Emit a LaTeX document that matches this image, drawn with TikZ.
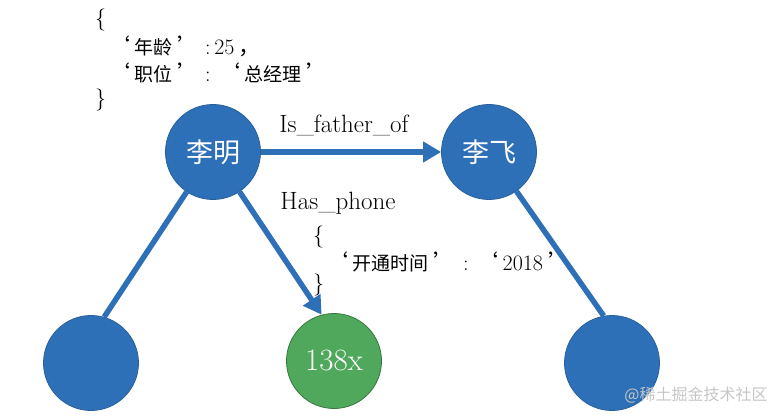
\documentclass[tikz,border=0pt]{standalone}
\usepackage{fontspec}
\newfontfamily\cjk{Noto Sans CJK SC}
\usetikzlibrary{arrows.meta}
\definecolor{entblue}{RGB}{46,112,184}
\definecolor{valgreen}{RGB}{80,168,92}
\newcommand{\qo}{{\cjk ‘}\hspace{4pt}}
\newcommand{\qc}{\hspace{5pt}{\cjk ’}}

\begin{document}
\begin{tikzpicture}[x=1pt, y=-1pt, >={Triangle[length=18pt,width=20pt]},
    ent/.style={circle, minimum size=95pt, inner sep=0pt, fill=entblue, draw=entblue!85!black, line width=0.8pt, text=white, font=\cjk\fontsize{27}{30}\selectfont},
    rel/.style={draw=entblue, line width=5.5pt},
    json/.style={anchor=west, inner sep=0pt, font=\fontsize{22}{26}\selectfont},
    cj/.style={font=\cjk\fontsize{19}{22}\selectfont},
    lbl/.style={font=\fontsize{25}{30}\selectfont}]
    \useasboundingbox (0,0) rectangle (782,417);

    % entities
    \node[ent] (liming) at (213,152) {李明};
    \node[ent] (lifei) at (489,152) {李飞};
    \node[ent] (left) at (91,363) {};
    \node[ent] (right) at (612,363) {};
    \node[ent, fill=valgreen, draw=valgreen!70!black, font=\fontsize{31}{34}\selectfont] (phone) at (334,361) {138x};

    % relations
    \draw[rel, ->] (liming) -- (lifei);
    \draw[rel] (liming) -- (left.74);
    \draw[rel, ->] (liming) -- (phone.105);
    \draw[rel] (lifei) -- (right.100);

    \node[lbl] (fatherlbl) at (344,125) {Is\_father\_of};
    \node[lbl] (phonelbl) at (338,203) {Has\_phone};

    % attributes of 李明
    \node[json] (ob) at (95,20) {\{};
    \node[json] (age) at (108,46) {\qo{\cjk\fontsize{19}{22}\selectfont 年龄}\qc\hspace{6pt}:\,25\hspace{4pt}{\cjk ，}};
    \node[json] (post) at (108,73) {\qo{\cjk\fontsize{19}{22}\selectfont 职位}\qc\hspace{6pt}:\hspace{8pt}\qo{\cjk\fontsize{19}{22}\selectfont 总经理}\qc};
    \node[json] (cb) at (95,100) {\}};

    % attributes of Has_phone
    \node[json] (ob2) at (313,237) {\{};
    \node[json] (since) at (326,262) {\qo{\cjk\fontsize{19}{22}\selectfont 开通时间}\qc\hspace{8pt}:\hspace{8pt}\qo 2018\qc};
    \node[json] (cb2) at (313,285) {\}};

    \node[font=\cjk\fontsize{16}{18}\selectfont, text=gray!45] (mark) at (696,395) {@稀土掘金技术社区};
\end{tikzpicture}
\end{document}
